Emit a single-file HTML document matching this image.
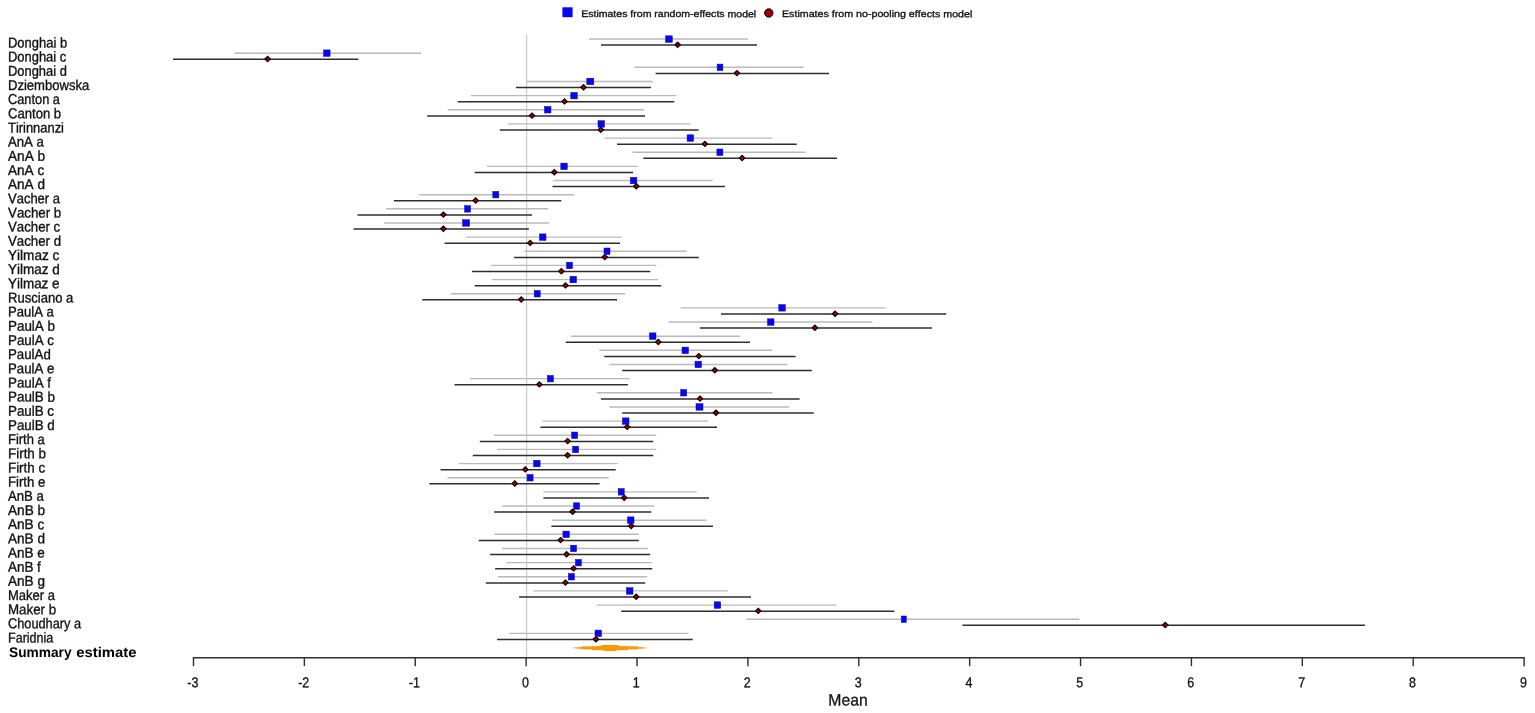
<!DOCTYPE html>
<html lang="en">
<head>
<meta charset="utf-8">
<title>Forest plot</title>
<style>
html,body{margin:0;padding:0;background:#fff;}
body{width:1535px;height:713px;overflow:hidden;}
svg{display:block;}
text{font-family:"Liberation Sans",sans-serif;fill:#111;text-rendering:geometricPrecision;font-kerning:none;}
.lab{font-size:14.3px;stroke:#111;stroke-width:0.35;}
.sum{font-size:14px;font-weight:bold;fill:#000;}
.tick{font-size:14.2px;text-anchor:middle;stroke:#111;stroke-width:0.3;}
.leg{font-size:9.6px;stroke:#111;stroke-width:0.32;}
.ax{font-size:16.4px;text-anchor:middle;stroke:#111;stroke-width:0.3;}
.g{stroke:#bababa;stroke-width:1.4;}
.k{stroke:#2e2e2e;stroke-width:1.5;}
.b{fill:#0808ee;stroke:#0a0a90;stroke-width:0.5;}
.d{fill:#a80000;stroke:#160000;stroke-width:1.2;}
</style>
</head>
<body>
<svg width="1535" height="713" viewBox="0 0 1535 713">
<rect width="1535" height="713" fill="#fff"/>
<rect x="562.4" y="7.3" width="10.2" height="9.9" fill="#0808ee"/>
<text class="leg" x="581.2" y="17.0" transform="rotate(0.05 581 17)" textLength="175" lengthAdjust="spacingAndGlyphs">Estimates from random-effects model</text>
<circle cx="768.8" cy="13" r="4.2" fill="#980000" stroke="#2a0000" stroke-width="1"/>
<text class="leg" x="782" y="17.0" transform="rotate(0.05 782 17)" textLength="190.3" lengthAdjust="spacingAndGlyphs">Estimates from no-pooling effects model</text>
<line x1="526.65" y1="34" x2="526.65" y2="657.66" stroke="#c2c2c2" stroke-width="1"/>
<text class="lab" transform="translate(8.0,47.40) rotate(0.05) scale(0.907,1)">Donghai b</text>
<text class="lab" transform="translate(8.0,61.57) rotate(0.05) scale(0.904,1)">Donghai c</text>
<text class="lab" transform="translate(8.0,75.74) rotate(0.05) scale(0.903,1)">Donghai d</text>
<text class="lab" transform="translate(8.0,89.90) rotate(0.05) scale(0.913,1)">Dziembowska</text>
<text class="lab" transform="translate(8.0,104.07) rotate(0.05) scale(0.895,1)">Canton a</text>
<text class="lab" transform="translate(8.0,118.24) rotate(0.05) scale(0.916,1)">Canton b</text>
<text class="lab" transform="translate(8.0,132.41) rotate(0.05) scale(0.903,1)">Tirinnanzi</text>
<text class="lab" transform="translate(8.0,146.58) rotate(0.05) scale(0.921,1)">AnA a</text>
<text class="lab" transform="translate(8.0,160.74) rotate(0.05) scale(0.952,1)">AnA b</text>
<text class="lab" transform="translate(8.0,174.91) rotate(0.05) scale(0.950,1)">AnA c</text>
<text class="lab" transform="translate(8.0,189.08) rotate(0.05) scale(0.948,1)">AnA d</text>
<text class="lab" transform="translate(8.0,203.25) rotate(0.05) scale(0.909,1)">Vacher a</text>
<text class="lab" transform="translate(8.0,217.42) rotate(0.05) scale(0.931,1)">Vacher b</text>
<text class="lab" transform="translate(8.0,231.58) rotate(0.05) scale(0.925,1)">Vacher c</text>
<text class="lab" transform="translate(8.0,245.75) rotate(0.05) scale(0.927,1)">Vacher d</text>
<text class="lab" transform="translate(8.0,259.92) rotate(0.05) scale(0.950,1)">Yilmaz c</text>
<text class="lab" transform="translate(8.0,274.09) rotate(0.05) scale(0.945,1)">Yilmaz d</text>
<text class="lab" transform="translate(8.0,288.26) rotate(0.05) scale(0.940,1)">Yilmaz e</text>
<text class="lab" transform="translate(8.0,302.42) rotate(0.05) scale(0.913,1)">Rusciano a</text>
<text class="lab" transform="translate(8.0,316.59) rotate(0.05) scale(0.914,1)">PaulA a</text>
<text class="lab" transform="translate(8.0,330.76) rotate(0.05) scale(0.938,1)">PaulA b</text>
<text class="lab" transform="translate(8.0,344.93) rotate(0.05) scale(0.934,1)">PaulA c</text>
<text class="lab" transform="translate(8.0,359.10) rotate(0.05) scale(0.928,1)">PaulAd</text>
<text class="lab" transform="translate(8.0,373.26) rotate(0.05) scale(0.924,1)">PaulA e</text>
<text class="lab" transform="translate(8.0,387.43) rotate(0.05) scale(0.934,1)">PaulA f</text>
<text class="lab" transform="translate(8.0,401.60) rotate(0.05) scale(0.938,1)">PaulB b</text>
<text class="lab" transform="translate(8.0,415.77) rotate(0.05) scale(0.934,1)">PaulB c</text>
<text class="lab" transform="translate(8.0,429.94) rotate(0.05) scale(0.934,1)">PaulB d</text>
<text class="lab" transform="translate(8.0,444.10) rotate(0.05) scale(0.907,1)">Firth a</text>
<text class="lab" transform="translate(8.0,458.27) rotate(0.05) scale(0.938,1)">Firth b</text>
<text class="lab" transform="translate(8.0,472.44) rotate(0.05) scale(0.933,1)">Firth c</text>
<text class="lab" transform="translate(8.0,486.61) rotate(0.05) scale(0.920,1)">Firth e</text>
<text class="lab" transform="translate(8.0,500.78) rotate(0.05) scale(0.921,1)">AnB a</text>
<text class="lab" transform="translate(8.0,514.94) rotate(0.05) scale(0.952,1)">AnB b</text>
<text class="lab" transform="translate(8.0,529.11) rotate(0.05) scale(0.950,1)">AnB c</text>
<text class="lab" transform="translate(8.0,543.28) rotate(0.05) scale(0.948,1)">AnB d</text>
<text class="lab" transform="translate(8.0,557.45) rotate(0.05) scale(0.942,1)">AnB e</text>
<text class="lab" transform="translate(8.0,571.62) rotate(0.05) scale(0.939,1)">AnB f</text>
<text class="lab" transform="translate(8.0,585.78) rotate(0.05) scale(0.948,1)">AnB g</text>
<text class="lab" transform="translate(8.0,599.95) rotate(0.05) scale(0.910,1)">Maker a</text>
<text class="lab" transform="translate(8.0,614.12) rotate(0.05) scale(0.932,1)">Maker b</text>
<text class="lab" transform="translate(8.0,628.29) rotate(0.05) scale(0.893,1)">Choudhary a</text>
<text class="lab" transform="translate(8.0,642.46) rotate(0.05) scale(0.877,1)">Faridnia</text>
<line class="k" x1="601" y1="45.1" x2="757" y2="45.1"/><path class="d" d="M675.0 44.8L677.7 42.2L680.4 44.8L677.7 47.4Z"/><line class="g" x1="589" y1="39.0" x2="748" y2="39.0"/><rect class="b" x="665.6" y="35.8" width="6.7" height="6.5"/>
<line class="k" x1="173" y1="59.3" x2="358.4" y2="59.3"/><path class="d" d="M264.9 59.0L267.6 56.4L270.3 59.0L267.6 61.6Z"/><line class="g" x1="234.5" y1="53.2" x2="421" y2="53.2"/><rect class="b" x="323.6" y="49.9" width="6.5" height="6.5"/>
<line class="k" x1="655.6" y1="73.4" x2="829" y2="73.4"/><path class="d" d="M734.2 73.1L736.9 70.5L739.6 73.1L736.9 75.7Z"/><line class="g" x1="634.5" y1="67.3" x2="803.7" y2="67.3"/><rect class="b" x="717.1" y="64.1" width="5.8" height="6.5"/>
<line class="k" x1="516" y1="87.6" x2="651" y2="87.6"/><path class="d" d="M580.8 87.3L583.5 84.7L586.2 87.3L583.5 89.9Z"/><line class="g" x1="526.8" y1="81.5" x2="653" y2="81.5"/><rect class="b" x="586.8" y="78.2" width="7.0" height="6.5"/>
<line class="k" x1="457.7" y1="101.7" x2="674.3" y2="101.7"/><path class="d" d="M561.8 101.4L564.5 98.8L567.2 101.4L564.5 104.0Z"/><line class="g" x1="470.7" y1="95.6" x2="676.4" y2="95.6"/><rect class="b" x="570.8" y="92.4" width="6.5" height="6.5"/>
<line class="k" x1="427.2" y1="115.9" x2="645" y2="115.9"/><path class="d" d="M529.3 115.6L532.0 113.0L534.7 115.6L532.0 118.2Z"/><line class="g" x1="447.7" y1="109.8" x2="644" y2="109.8"/><rect class="b" x="544.5" y="106.5" width="6.5" height="6.5"/>
<line class="k" x1="499.8" y1="130.0" x2="698.6" y2="130.0"/><path class="d" d="M598.1 129.7L600.8 127.1L603.5 129.7L600.8 132.3Z"/><line class="g" x1="507.8" y1="123.9" x2="690.4" y2="123.9"/><rect class="b" x="598.0" y="120.7" width="6.5" height="6.5"/>
<line class="k" x1="617" y1="144.2" x2="796.7" y2="144.2"/><path class="d" d="M702.2 143.9L704.9 141.3L707.6 143.9L704.9 146.5Z"/><line class="g" x1="604.3" y1="138.1" x2="772.4" y2="138.1"/><rect class="b" x="687.1" y="134.8" width="6.5" height="6.5"/>
<line class="k" x1="643.3" y1="158.3" x2="837" y2="158.3"/><path class="d" d="M739.4 158.0L742.1 155.4L744.8 158.0L742.1 160.6Z"/><line class="g" x1="632.6" y1="152.2" x2="805.7" y2="152.2"/><rect class="b" x="716.9" y="149.0" width="6.0" height="6.5"/>
<line class="k" x1="474.7" y1="172.5" x2="633" y2="172.5"/><path class="d" d="M551.6 172.2L554.3 169.6L557.0 172.2L554.3 174.8Z"/><line class="g" x1="487" y1="166.4" x2="638" y2="166.4"/><rect class="b" x="560.8" y="163.1" width="6.5" height="6.5"/>
<line class="k" x1="552.5" y1="186.6" x2="724.9" y2="186.6"/><path class="d" d="M633.6 186.3L636.3 183.7L639.0 186.3L636.3 188.9Z"/><line class="g" x1="553.5" y1="180.5" x2="712.6" y2="180.5"/><rect class="b" x="630.4" y="177.3" width="6.5" height="6.5"/>
<line class="k" x1="394" y1="200.8" x2="561.3" y2="200.8"/><path class="d" d="M473.0 200.5L475.7 197.9L478.4 200.5L475.7 203.1Z"/><line class="g" x1="419.2" y1="194.7" x2="574.3" y2="194.7"/><rect class="b" x="492.8" y="191.4" width="6.0" height="6.5"/>
<line class="k" x1="357.5" y1="214.9" x2="531.9" y2="214.9"/><path class="d" d="M440.7 214.6L443.4 212.0L446.1 214.6L443.4 217.2Z"/><line class="g" x1="386" y1="208.8" x2="548.2" y2="208.8"/><rect class="b" x="464.6" y="205.6" width="6.0" height="6.5"/>
<line class="k" x1="353.5" y1="229.1" x2="528.9" y2="229.1"/><path class="d" d="M440.7 228.8L443.4 226.2L446.1 228.8L443.4 231.4Z"/><line class="g" x1="384.3" y1="223.0" x2="549.2" y2="223.0"/><rect class="b" x="462.6" y="219.7" width="7.0" height="6.5"/>
<line class="k" x1="444.6" y1="243.2" x2="620" y2="243.2"/><path class="d" d="M527.5 242.9L530.2 240.3L532.9 242.9L530.2 245.5Z"/><line class="g" x1="465.9" y1="237.1" x2="622" y2="237.1"/><rect class="b" x="539.5" y="233.9" width="6.5" height="6.5"/>
<line class="k" x1="514.2" y1="257.4" x2="698.8" y2="257.4"/><path class="d" d="M602.0 257.1L604.7 254.5L607.4 257.1L604.7 259.7Z"/><line class="g" x1="524.4" y1="251.3" x2="686.5" y2="251.3"/><rect class="b" x="604.0" y="248.0" width="6.0" height="6.5"/>
<line class="k" x1="471.9" y1="271.5" x2="650.3" y2="271.5"/><path class="d" d="M558.7 271.2L561.4 268.6L564.1 271.2L561.4 273.8Z"/><line class="g" x1="490.9" y1="265.4" x2="656.3" y2="265.4"/><rect class="b" x="566.5" y="262.2" width="6.0" height="6.5"/>
<line class="k" x1="474.6" y1="285.7" x2="661.3" y2="285.7"/><path class="d" d="M562.8 285.4L565.5 282.8L568.2 285.4L565.5 288.0Z"/><line class="g" x1="491.9" y1="279.6" x2="658.3" y2="279.6"/><rect class="b" x="570.0" y="276.3" width="6.5" height="6.5"/>
<line class="k" x1="422.3" y1="299.8" x2="617" y2="299.8"/><path class="d" d="M518.5 299.5L521.2 296.9L523.9 299.5L521.2 302.1Z"/><line class="g" x1="450.6" y1="293.7" x2="625" y2="293.7"/><rect class="b" x="534.2" y="290.5" width="6.0" height="6.5"/>
<line class="k" x1="721" y1="314.0" x2="946.2" y2="314.0"/><path class="d" d="M832.4 313.7L835.1 311.1L837.8 313.7L835.1 316.3Z"/><line class="g" x1="680.8" y1="307.9" x2="885.7" y2="307.9"/><rect class="b" x="778.8" y="304.6" width="6.5" height="6.5"/>
<line class="k" x1="699.8" y1="328.1" x2="932" y2="328.1"/><path class="d" d="M812.2 327.8L814.9 325.2L817.6 327.8L814.9 330.4Z"/><line class="g" x1="668.5" y1="322.0" x2="872.4" y2="322.0"/><rect class="b" x="767.5" y="318.8" width="6.5" height="6.5"/>
<line class="k" x1="565.7" y1="342.3" x2="750" y2="342.3"/><path class="d" d="M655.6 342.0L658.3 339.4L661.0 342.0L658.3 344.6Z"/><line class="g" x1="571" y1="336.2" x2="740.3" y2="336.2"/><rect class="b" x="649.5" y="332.9" width="6.5" height="6.5"/>
<line class="k" x1="604.2" y1="356.4" x2="795.6" y2="356.4"/><path class="d" d="M696.1 356.1L698.8 353.5L701.5 356.1L698.8 358.7Z"/><line class="g" x1="599.2" y1="350.3" x2="772.3" y2="350.3"/><rect class="b" x="682.0" y="347.1" width="6.5" height="6.5"/>
<line class="k" x1="622.2" y1="370.6" x2="811.8" y2="370.6"/><path class="d" d="M712.1 370.3L714.8 367.7L717.5 370.3L714.8 372.9Z"/><line class="g" x1="609.5" y1="364.5" x2="787.3" y2="364.5"/><rect class="b" x="695.0" y="361.2" width="6.5" height="6.5"/>
<line class="k" x1="454.5" y1="384.7" x2="627.9" y2="384.7"/><path class="d" d="M536.7 384.4L539.4 381.8L542.1 384.4L539.4 387.0Z"/><line class="g" x1="469.8" y1="378.6" x2="629.9" y2="378.6"/><rect class="b" x="547.4" y="375.4" width="6.0" height="6.5"/>
<line class="k" x1="600.9" y1="398.9" x2="799.6" y2="398.9"/><path class="d" d="M697.3 398.6L700.0 396.0L702.7 398.6L700.0 401.2Z"/><line class="g" x1="596.9" y1="392.8" x2="772.5" y2="392.8"/><rect class="b" x="680.7" y="389.5" width="6.0" height="6.5"/>
<line class="k" x1="622.2" y1="413.1" x2="813.8" y2="413.1"/><path class="d" d="M713.3 412.8L716.0 410.2L718.7 412.8L716.0 415.4Z"/><line class="g" x1="609.2" y1="407.0" x2="789.3" y2="407.0"/><rect class="b" x="696.0" y="403.7" width="7.0" height="6.5"/>
<line class="k" x1="540.4" y1="427.2" x2="717" y2="427.2"/><path class="d" d="M624.5 426.9L627.2 424.3L629.9 426.9L627.2 429.5Z"/><line class="g" x1="542.4" y1="421.1" x2="708" y2="421.1"/><rect class="b" x="622.5" y="417.9" width="6.5" height="6.5"/>
<line class="k" x1="479.8" y1="441.4" x2="653.2" y2="441.4"/><path class="d" d="M564.9 441.1L567.6 438.5L570.3 441.1L567.6 443.7Z"/><line class="g" x1="494.1" y1="435.3" x2="656.2" y2="435.3"/><rect class="b" x="571.6" y="432.0" width="6.0" height="6.5"/>
<line class="k" x1="472.8" y1="455.5" x2="653.2" y2="455.5"/><path class="d" d="M564.9 455.2L567.6 452.6L570.3 455.2L567.6 457.8Z"/><line class="g" x1="497.1" y1="449.4" x2="656.2" y2="449.4"/><rect class="b" x="572.6" y="446.2" width="6.0" height="6.5"/>
<line class="k" x1="440.5" y1="469.7" x2="615.7" y2="469.7"/><path class="d" d="M522.6 469.4L525.3 466.8L528.0 469.4L525.3 472.0Z"/><line class="g" x1="458.5" y1="463.6" x2="617.7" y2="463.6"/><rect class="b" x="533.6" y="460.3" width="6.5" height="6.5"/>
<line class="k" x1="429.3" y1="483.8" x2="599.6" y2="483.8"/><path class="d" d="M512.1 483.5L514.8 480.9L517.5 483.5L514.8 486.1Z"/><line class="g" x1="447.5" y1="477.7" x2="608.7" y2="477.7"/><rect class="b" x="527.1" y="474.5" width="6.0" height="6.5"/>
<line class="k" x1="543.4" y1="498.0" x2="709" y2="498.0"/><path class="d" d="M621.5 497.7L624.2 495.1L626.9 497.7L624.2 500.3Z"/><line class="g" x1="543.4" y1="491.9" x2="696.7" y2="491.9"/><rect class="b" x="618.2" y="488.6" width="6.0" height="6.5"/>
<line class="k" x1="494.1" y1="512.1" x2="651.2" y2="512.1"/><path class="d" d="M569.9 511.8L572.6 509.2L575.3 511.8L572.6 514.4Z"/><line class="g" x1="502.1" y1="506.0" x2="654.2" y2="506.0"/><rect class="b" x="573.6" y="502.8" width="6.0" height="6.5"/>
<line class="k" x1="551.4" y1="526.3" x2="713" y2="526.3"/><path class="d" d="M628.5 526.0L631.2 523.4L633.9 526.0L631.2 528.6Z"/><line class="g" x1="552.4" y1="520.2" x2="706.7" y2="520.2"/><rect class="b" x="627.5" y="516.9" width="6.5" height="6.5"/>
<line class="k" x1="478.8" y1="540.4" x2="638.9" y2="540.4"/><path class="d" d="M557.9 540.1L560.6 537.5L563.3 540.1L560.6 542.7Z"/><line class="g" x1="494.1" y1="534.3" x2="638.9" y2="534.3"/><rect class="b" x="562.9" y="531.1" width="6.5" height="6.5"/>
<line class="k" x1="490.1" y1="554.6" x2="650.2" y2="554.6"/><path class="d" d="M563.9 554.3L566.6 551.7L569.3 554.3L566.6 556.9Z"/><line class="g" x1="502.1" y1="548.5" x2="648" y2="548.5"/><rect class="b" x="570.6" y="545.2" width="6.0" height="6.5"/>
<line class="k" x1="495.1" y1="568.7" x2="652.2" y2="568.7"/><path class="d" d="M570.9 568.4L573.6 565.8L576.3 568.4L573.6 571.0Z"/><line class="g" x1="506.1" y1="562.6" x2="652.2" y2="562.6"/><rect class="b" x="575.4" y="559.4" width="6.0" height="6.5"/>
<line class="k" x1="485.8" y1="582.9" x2="645.2" y2="582.9"/><path class="d" d="M562.7 582.6L565.4 580.0L568.1 582.6L565.4 585.2Z"/><line class="g" x1="498.1" y1="576.8" x2="647.2" y2="576.8"/><rect class="b" x="568.4" y="573.5" width="6.0" height="6.5"/>
<line class="k" x1="519.1" y1="597.0" x2="751" y2="597.0"/><path class="d" d="M633.5 596.7L636.2 594.1L638.9 596.7L636.2 599.3Z"/><line class="g" x1="533.4" y1="590.9" x2="727.8" y2="590.9"/><rect class="b" x="626.5" y="587.7" width="6.5" height="6.5"/>
<line class="k" x1="621.2" y1="611.2" x2="894.3" y2="611.2"/><path class="d" d="M755.6 610.9L758.3 608.3L761.0 610.9L758.3 613.5Z"/><line class="g" x1="596.9" y1="605.1" x2="836.8" y2="605.1"/><rect class="b" x="714.2" y="601.8" width="6.5" height="6.5"/>
<line class="k" x1="962.4" y1="625.3" x2="1364.9" y2="625.3"/><path class="d" d="M1162.6 625.0L1165.3 622.4L1168.0 625.0L1165.3 627.6Z"/><line class="g" x1="746.5" y1="619.2" x2="1079.5" y2="619.2"/><rect class="b" x="901.3" y="616.0" width="5.0" height="6.5"/>
<line class="k" x1="497.1" y1="639.5" x2="692.7" y2="639.5"/><path class="d" d="M593.2 639.2L595.9 636.6L598.6 639.2L595.9 641.8Z"/><line class="g" x1="509.1" y1="633.4" x2="688.5" y2="633.4"/><rect class="b" x="595.0" y="630.1" width="6.5" height="6.5"/>
<text class="sum" y="656.9" transform="rotate(0.05 9 656.9)"><tspan x="9.0" textLength="62.6" lengthAdjust="spacingAndGlyphs">Summary</tspan> <tspan x="76.2" textLength="60.2" lengthAdjust="spacingAndGlyphs">estimate</tspan></text>
<g fill="#f59b08"><rect x="573.4" y="647.35" width="72.9" height="1.1" opacity="0.8"/><rect x="577" y="647.00" width="66" height="1.8" opacity="0.7"/><rect x="581.5" y="646.30" width="57" height="3.1"/><rect x="592" y="646.30" width="36" height="3.9"/><rect x="601" y="645.10" width="18" height="5.1"/><rect x="604.3" y="645.10" width="11.7" height="6.0"/></g>
<line x1="192.83" y1="657.66" x2="1524.73" y2="657.66" stroke="#2e2e2e" stroke-width="1.5"/>
<line x1="193.48" y1="657.66" x2="193.48" y2="666.16" stroke="#2e2e2e" stroke-width="1.4"/><text class="tick" transform="translate(192.8,687.2) rotate(0.05) scale(0.88,1)">-3</text>
<line x1="304.36" y1="657.66" x2="304.36" y2="666.16" stroke="#2e2e2e" stroke-width="1.4"/><text class="tick" transform="translate(303.7,687.2) rotate(0.05) scale(0.88,1)">-2</text>
<line x1="415.25" y1="657.66" x2="415.25" y2="666.16" stroke="#2e2e2e" stroke-width="1.4"/><text class="tick" transform="translate(414.5,687.2) rotate(0.05) scale(0.88,1)">-1</text>
<line x1="526.13" y1="657.66" x2="526.13" y2="666.16" stroke="#2e2e2e" stroke-width="1.4"/><text class="tick" transform="translate(525.4,687.2) rotate(0.05) scale(0.88,1)">0</text>
<line x1="637.01" y1="657.66" x2="637.01" y2="666.16" stroke="#2e2e2e" stroke-width="1.4"/><text class="tick" transform="translate(636.3,687.2) rotate(0.05) scale(0.88,1)">1</text>
<line x1="747.90" y1="657.66" x2="747.90" y2="666.16" stroke="#2e2e2e" stroke-width="1.4"/><text class="tick" transform="translate(747.2,687.2) rotate(0.05) scale(0.88,1)">2</text>
<line x1="858.78" y1="657.66" x2="858.78" y2="666.16" stroke="#2e2e2e" stroke-width="1.4"/><text class="tick" transform="translate(858.1,687.2) rotate(0.05) scale(0.88,1)">3</text>
<line x1="969.66" y1="657.66" x2="969.66" y2="666.16" stroke="#2e2e2e" stroke-width="1.4"/><text class="tick" transform="translate(969.0,687.2) rotate(0.05) scale(0.88,1)">4</text>
<line x1="1080.55" y1="657.66" x2="1080.55" y2="666.16" stroke="#2e2e2e" stroke-width="1.4"/><text class="tick" transform="translate(1079.8,687.2) rotate(0.05) scale(0.88,1)">5</text>
<line x1="1191.43" y1="657.66" x2="1191.43" y2="666.16" stroke="#2e2e2e" stroke-width="1.4"/><text class="tick" transform="translate(1190.7,687.2) rotate(0.05) scale(0.88,1)">6</text>
<line x1="1302.31" y1="657.66" x2="1302.31" y2="666.16" stroke="#2e2e2e" stroke-width="1.4"/><text class="tick" transform="translate(1301.6,687.2) rotate(0.05) scale(0.88,1)">7</text>
<line x1="1413.19" y1="657.66" x2="1413.19" y2="666.16" stroke="#2e2e2e" stroke-width="1.4"/><text class="tick" transform="translate(1412.5,687.2) rotate(0.05) scale(0.88,1)">8</text>
<line x1="1524.08" y1="657.66" x2="1524.08" y2="666.16" stroke="#2e2e2e" stroke-width="1.4"/><text class="tick" transform="translate(1523.4,687.2) rotate(0.05) scale(0.88,1)">9</text>
<text class="ax" transform="translate(848,705.6) rotate(0.05) scale(0.962,1)">Mean</text>
</svg>
</body>
</html>
